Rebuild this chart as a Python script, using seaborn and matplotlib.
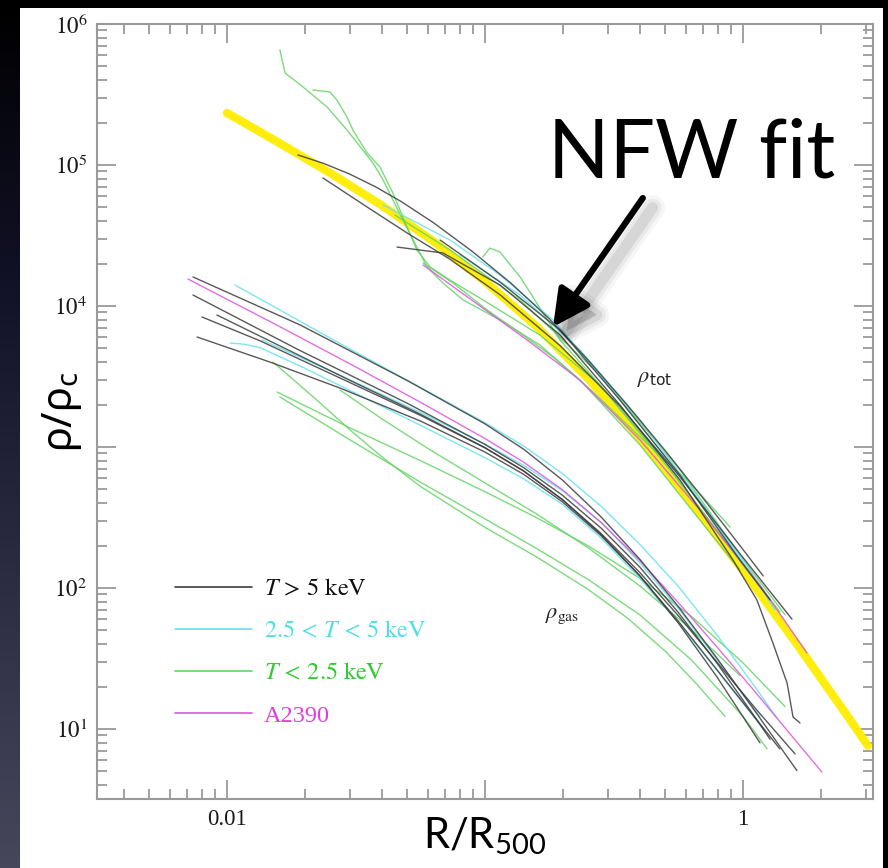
import numpy as np
import pandas as pd
import matplotlib
matplotlib.use("Agg")
import matplotlib.pyplot as plt
import matplotlib.patheffects as pe
from matplotlib.colors import LinearSegmentedColormap
from matplotlib.lines import Line2D
from matplotlib.patches import Rectangle
from matplotlib.ticker import FixedLocator, FixedFormatter, LogLocator, NullFormatter
import seaborn as sns

# All profiles are tabulated in dex: log10(R/R500) and log10(rho/rho_c).

# NFW fit to the total density
nfw_lgr = [-2.0, -1.8, -1.6, -1.4, -1.2, -1.0, -0.8, -0.6, -0.4, -0.2, 0.0, 0.2, 0.4, 0.484]
nfw_lgrho = [5.369, 5.159, 4.943, 4.713, 4.459, 4.175, 3.855, 3.485, 3.065, 2.605, 2.125, 1.625, 1.105, 0.882]

# ---- total density profiles ----
tot_hot1_lgr = [-1.725, -1.625, -1.525, -1.425, -1.325, -1.2, -1.05, -0.9, -0.75, -0.6, -0.45, -0.3, -0.15, 0.0, 0.078]
tot_hot1_lgrho = [5.071, 5.011, 4.936, 4.846, 4.741, 4.591, 4.388, 4.163, 3.908, 3.616, 3.301, 2.971, 2.626, 2.273, 2.086]
tot_hot2_lgr = [-1.628, -1.457, -1.302, -1.136, -0.942, -0.709, -0.477, -0.244, -0.012, 0.190]
tot_hot2_lgrho = [4.908, 4.702, 4.518, 4.332, 4.080, 3.719, 3.290, 2.789, 2.244, 1.779]
tot_hot3_lgr = [-1.341, -1.163, -0.942, -0.709, -0.477, -0.244, -0.039, 0.054, 0.116, 0.171, 0.194, 0.221]
tot_hot3_lgrho = [4.418, 4.376, 4.149, 3.794, 3.298, 2.766, 2.199, 1.915, 1.610, 1.326, 1.085, 1.043]
tot_hot4_lgr = [-1.174, -0.942, -0.709, -0.477, -0.244, -0.012, 0.105]
tot_hot4_lgrho = [4.468, 4.170, 3.830, 3.333, 2.801, 2.199, 1.915]

tot_warm1_lgr = [-1.395, -1.136, -0.942, -0.736, -0.554, -0.322, -0.089, 0.066]
tot_warm1_lgrho = [4.716, 4.468, 4.220, 3.901, 3.511, 2.979, 2.411, 2.007]
tot_warm2_lgr = [-1.097, -0.864, -0.632, -0.399, -0.167, 0.027, 0.124]
tot_warm2_lgrho = [4.362, 4.078, 3.688, 3.191, 2.624, 2.128, 1.844]

tot_cool1_lgr = [-1.795, -1.775, -1.705, -1.612, -1.535, -1.434, -1.395, -1.357, -1.318, -1.264,
                 -1.225, -1.163, -1.085, -0.942, -0.787, -0.632, -0.399, -0.167, -0.012]
tot_cool1_lgrho = [5.816, 5.652, 5.553, 5.411, 5.248, 5.014, 4.894, 4.752, 4.610, 4.418,
                   4.277, 4.163, 4.043, 3.901, 3.723, 3.475, 3.014, 2.482, 2.128]
tot_cool2_lgr = [-1.667, -1.601, -1.574, -1.535, -1.512, -1.457, -1.407, -1.357, -1.302, -1.264,
                 -1.213, -1.136, -1.008, -0.787, -0.554, -0.283, -0.012, 0.143]
tot_cool2_lgrho = [5.532, 5.518, 5.461, 5.340, 5.248, 5.085, 4.986, 4.801, 4.560, 4.397,
                   4.277, 4.184, 4.043, 3.794, 3.440, 2.837, 2.199, 1.830]
tot_cool3_lgr = [-1.240, -1.124, -0.992, -0.864, -0.736, -0.581, -0.399, -0.205, -0.050]
tot_cool3_lgrho = [4.305, 4.163, 3.972, 3.809, 3.638, 3.390, 3.071, 2.745, 2.433]
tot_cool4_lgr = [-1.008, -0.981, -0.942, -0.864, -0.814, -0.709, -0.554, -0.322, -0.089, 0.105]
tot_cool4_lgrho = [4.348, 4.411, 4.383, 4.206, 4.064, 3.759, 3.440, 2.943, 2.376, 1.915]
tot_cool5_lgr = [-1.349, -1.136, -0.864, -0.554, -0.244, -0.012, 0.163]
tot_cool5_lgrho = [4.645, 4.397, 4.043, 3.511, 2.837, 2.234, 1.809]

tot_a2390_lgr = [-1.240, -0.837, -0.632, -0.399, -0.167, 0.066, 0.248]
tot_a2390_lgrho = [4.291, 3.759, 3.475, 3.050, 2.553, 2.021, 1.539]

# ---- gas density profiles ----
gas_hot1_lgr = [-2.132, -1.717, -1.3, -1.0, -0.85, -0.7, -0.55, -0.4, -0.25, -0.1, 0.05, 0.209]
gas_hot1_lgrho = [4.206, 3.866, 3.470, 3.164, 2.984, 2.766, 2.504, 2.204, 1.867, 1.500, 1.118, 0.705]
gas_hot2_lgr = [-2.132, -1.717, -1.3, -1.0, -0.85, -0.7, -0.55, -0.4, -0.25, -0.1, 0.05, 0.105]
gas_hot2_lgrho = [4.078, 3.684, 3.309, 3.018, 2.853, 2.658, 2.425, 2.148, 1.825, 1.465, 1.075, 0.927]
gas_hot3_lgr = [-2.097, -1.872, -1.523, -1.25, -1.0, -0.85, -0.7, -0.55, -0.4, -0.25, -0.1, 0.066]
gas_hot3_lgrho = [3.922, 3.753, 3.456, 3.224, 2.994, 2.829, 2.627, 2.379, 2.087, 1.750, 1.367, 0.902]
gas_hot4_lgr = [-2.039, -1.872, -1.523, -1.25, -1.0, -0.85, -0.7, -0.55, -0.4, -0.25, -0.1, 0.05, 0.202]
gas_hot4_lgrho = [3.936, 3.786, 3.472, 3.232, 2.995, 2.830, 2.627, 2.387, 2.110, 1.802, 1.472, 1.142, 0.823]
gas_hot5_lgr = [-2.116, -1.833, -1.562, -1.25, -1.0, -0.85, -0.7, -0.55, -0.4, -0.25, -0.1, 0.05, 0.143]
gas_hot5_lgrho = [3.780, 3.602, 3.418, 3.184, 2.964, 2.806, 2.611, 2.371, 2.086, 1.763, 1.418, 1.073, 0.859]

gas_warm1_lgr = [-1.969, -1.574, -1.25, -1.0, -0.85, -0.7, -0.55, -0.4, -0.25, -0.1, 0.05, 0.132]
gas_warm1_lgrho = [4.149, 3.746, 3.422, 3.172, 3.007, 2.812, 2.580, 2.310, 2.010, 1.665, 1.290, 1.077]
gas_warm2_lgr = [-1.988, -1.93, -1.872, -1.7, -1.523, -1.25, -1.0, -0.85, -0.7, -0.55, -0.4, -0.25, -0.1, 0.085]
gas_warm2_lgrho = [3.738, 3.728, 3.705, 3.560, 3.400, 3.154, 2.924, 2.774, 2.594, 2.354, 2.069, 1.754, 1.414, 0.987]
gas_warm3_lgr = [-1.864, -1.523, -1.25, -1.0, -0.85, -0.7, -0.55, -0.4, -0.25, -0.1, 0.066]
gas_warm3_lgrho = [3.759, 3.476, 3.245, 3.020, 2.870, 2.690, 2.465, 2.180, 1.855, 1.490, 1.088]

gas_cool1_lgr = [-1.822, -1.65, -1.523, -1.4, -1.25, -1.0, -0.8, -0.6, -0.45, -0.3, -0.18, -0.07]
gas_cool1_lgrho = [3.603, 3.330, 3.121, 2.930, 2.720, 2.430, 2.220, 1.990, 1.790, 1.550, 1.320, 1.090]
gas_cool2_lgr = [-1.806, -1.523, -1.25, -1.0, -0.8, -0.6, -0.4, -0.2, 0.0, 0.163]
gas_cool2_lgrho = [3.390, 3.135, 2.903, 2.683, 2.499, 2.299, 2.069, 1.799, 1.469, 1.159]
gas_cool3_lgr = [-1.795, -1.523, -1.25, -1.0, -0.8, -0.6, -0.4, -0.2, 0.0, 0.093]
gas_cool3_lgrho = [3.355, 3.050, 2.750, 2.490, 2.280, 2.060, 1.810, 1.490, 1.090, 0.860]
gas_cool4_lgr = [-1.562, -1.4, -1.213, -1.0, -0.8, -0.6, -0.4, -0.2, -0.012]
gas_cool4_lgrho = [3.404, 3.200, 2.980, 2.745, 2.525, 2.285, 2.015, 1.705, 1.380]

gas_a2390_lgr = [-2.151, -1.8, -1.5, -1.25, -1.0, -0.85, -0.7, -0.55, -0.4, -0.25, -0.1, 0.05, 0.2, 0.306]
gas_a2390_lgrho = [4.191, 3.858, 3.567, 3.317, 3.060, 2.892, 2.697, 2.465, 2.195, 1.895, 1.580, 1.257, 0.927, 0.694]

# cluster samples
samples = ["cool", "warm", "A2390", "hot"]
legend_order = ["hot", "warm", "cool", "A2390"]
sample_labels = {
    "hot": r"$T\,>\,5\ \mathrm{keV}$",
    "warm": r"$2.5\,<\,T\,<\,5\ \mathrm{keV}$",
    "cool": r"$T\,<\,2.5\ \mathrm{keV}$",
    "A2390": "A2390",
}
line_colors = {"hot": "#3c3c3c", "warm": "#66e2ec", "cool": "#66d466", "A2390": "#dd55dd"}
text_colors = {"hot": "#111111", "warm": "#4edfe6", "cool": "#2fcc2f", "A2390": "#e03ce0"}

profiles = [
    ("tot_hot1", "hot", tot_hot1_lgr, tot_hot1_lgrho),
    ("tot_hot2", "hot", tot_hot2_lgr, tot_hot2_lgrho),
    ("tot_hot3", "hot", tot_hot3_lgr, tot_hot3_lgrho),
    ("tot_hot4", "hot", tot_hot4_lgr, tot_hot4_lgrho),
    ("tot_warm1", "warm", tot_warm1_lgr, tot_warm1_lgrho),
    ("tot_warm2", "warm", tot_warm2_lgr, tot_warm2_lgrho),
    ("tot_cool1", "cool", tot_cool1_lgr, tot_cool1_lgrho),
    ("tot_cool2", "cool", tot_cool2_lgr, tot_cool2_lgrho),
    ("tot_cool3", "cool", tot_cool3_lgr, tot_cool3_lgrho),
    ("tot_cool4", "cool", tot_cool4_lgr, tot_cool4_lgrho),
    ("tot_cool5", "cool", tot_cool5_lgr, tot_cool5_lgrho),
    ("tot_a2390", "A2390", tot_a2390_lgr, tot_a2390_lgrho),
    ("gas_hot1", "hot", gas_hot1_lgr, gas_hot1_lgrho),
    ("gas_hot2", "hot", gas_hot2_lgr, gas_hot2_lgrho),
    ("gas_hot3", "hot", gas_hot3_lgr, gas_hot3_lgrho),
    ("gas_hot4", "hot", gas_hot4_lgr, gas_hot4_lgrho),
    ("gas_hot5", "hot", gas_hot5_lgr, gas_hot5_lgrho),
    ("gas_warm1", "warm", gas_warm1_lgr, gas_warm1_lgrho),
    ("gas_warm2", "warm", gas_warm2_lgr, gas_warm2_lgrho),
    ("gas_warm3", "warm", gas_warm3_lgr, gas_warm3_lgrho),
    ("gas_cool1", "cool", gas_cool1_lgr, gas_cool1_lgrho),
    ("gas_cool2", "cool", gas_cool2_lgr, gas_cool2_lgrho),
    ("gas_cool3", "cool", gas_cool3_lgr, gas_cool3_lgrho),
    ("gas_cool4", "cool", gas_cool4_lgr, gas_cool4_lgrho),
    ("gas_a2390", "A2390", gas_a2390_lgr, gas_a2390_lgrho),
]

rows = []
for name, sample, lgr, lgrho in profiles:
    for a, b in zip(lgr, lgrho):
        rows.append((name, sample, 10.0 ** a, 10.0 ** b))
df = pd.DataFrame(rows, columns=["profile", "sample", "R", "rho"])
nfw = pd.DataFrame({"R": 10.0 ** np.array(nfw_lgr), "rho": 10.0 ** np.array(nfw_lgrho)})

sns.set_style("ticks")
plt.rcParams["font.family"] = ["Liberation Serif", "DejaVu Serif"]
plt.rcParams["mathtext.fontset"] = "stix"

fig = plt.figure(figsize=(8.88, 8.68), dpi=100)
fig.patch.set_facecolor("white")

# slide backdrop: dark band on the left, top and right
bg = fig.add_axes([0, 0, 19 / 888, 1], zorder=-5)
grad = np.linspace(0, 1, 256).reshape(-1, 1)
cmap = LinearSegmentedColormap.from_list(
    "slide", [(0.0, "#000000"), (0.35, "#13132a"), (0.7, "#2e2f45"), (1.0, "#46475b")])
bg.imshow(grad, aspect="auto", cmap=cmap, extent=(0, 1, 0, 1), origin="upper")
bg.set_axis_off()
fig.add_artist(Rectangle((0, 1 - 8 / 868), 1, 8 / 868, transform=fig.transFigure,
                         facecolor="black", edgecolor="none", zorder=-4))
fig.add_artist(Rectangle((883 / 888, 0), 5 / 888, 1, transform=fig.transFigure,
                         facecolor="black", edgecolor="none", zorder=-4))

ax = fig.add_axes([97 / 888, 1 - 799 / 868, 776 / 888, 775 / 868])
ax.set_xscale("log")
ax.set_yscale("log")
ax.set_facecolor("white")

sns.lineplot(data=nfw, x="R", y="rho", color="#ffee00", lw=6.0, alpha=0.95,
             sort=False, estimator=None, ax=ax, zorder=1)
sns.lineplot(data=df, x="R", y="rho", hue="sample", units="profile", estimator=None,
             sort=False, hue_order=samples, palette=line_colors, lw=1.0, alpha=0.85,
             legend=False, ax=ax, zorder=2)

ax.set_xlim(10 ** -2.504, 10 ** 0.504)
ax.set_ylim(10 ** 0.5035, 1e6)

ax.xaxis.set_major_locator(FixedLocator([0.01, 0.1, 1.0]))
ax.xaxis.set_major_formatter(FixedFormatter(["0.01", "", "1"]))
ax.xaxis.set_minor_locator(LogLocator(base=10, subs=np.arange(2, 10)))
ax.xaxis.set_minor_formatter(NullFormatter())
ax.yaxis.set_major_locator(FixedLocator([1e1, 1e2, 1e3, 1e4, 1e5, 1e6]))
ax.yaxis.set_major_formatter(FixedFormatter(
    [r"$10^{1}$", r"$10^{2}$", "", r"$10^{4}$", r"$10^{5}$", r"$10^{6}$"]))
ax.yaxis.set_minor_locator(LogLocator(base=10, subs=np.arange(2, 10)))
ax.yaxis.set_minor_formatter(NullFormatter())

frame_grey = "#9a9a9a"
ax.tick_params(which="both", direction="in", top=True, right=True, color=frame_grey,
               labelcolor="#1a1a1a", labelsize=16.5, pad=7)
ax.tick_params(which="major", length=14, width=1.3)
ax.tick_params(which="minor", length=7, width=1.3)
for s in ax.spines.values():
    s.set_color(frame_grey)
    s.set_linewidth(1.5)

ax.set_xlabel(r"$\mathregular{R/R_{500}}$", fontsize=30, family="Lato", color="black")
ax.xaxis.set_label_coords(0.5, -0.021)
ax.set_ylabel(r"$\mathregular{\rho/\rho_c}$", fontsize=30, family="Noto Sans", color="black")
ax.yaxis.set_label_coords(-0.017, 0.5)

# profile family labels
ax.text(0.388, 10 ** 3.46, r"$\rho_{\mathregular{tot}}$", fontsize=16, family="DejaVu Sans",
        ha="left", va="baseline")
ax.text(0.171, 10 ** 1.79, r"$\rho_{\rm gas}$", fontsize=16, ha="left", va="baseline")

# legend with coloured labels
handles = [Line2D([0], [0], color=line_colors[s], lw=1.2) for s in legend_order]
leg = ax.legend(handles, [sample_labels[s] for s in legend_order],
                loc="upper left", bbox_to_anchor=(0.1005, 0.284), frameon=False, fontsize=17.5,
                handlelength=3.17, handletextpad=0.5, labelspacing=0.82, borderaxespad=0,
                borderpad=0, labelcolor=[text_colors[s] for s in legend_order])

# NFW call-out with a soft drop shadow
ax.text(0.1755, 8.2e4, "NFW fit", fontsize=58, family="Lato", ha="left", va="baseline",
        color="black")
arr = ax.annotate("", xy=(0.1835, 7.1e3), xytext=(0.409, 5.83e4),
                  arrowprops=dict(arrowstyle="-|>,head_length=0.55,head_width=0.28",
                                  mutation_scale=40, lw=4.5, color="black",
                                  shrinkA=0, shrinkB=0))
shadow = []
for lw_s, a_s in [(18, 0.035), (13, 0.05), (8, 0.08)]:
    shadow.append(pe.SimpleLineShadow(offset=(7, -7), shadow_color="black", alpha=a_s,
                                      linewidth=lw_s))
shadow.append(pe.SimplePatchShadow(offset=(7, -7), shadow_rgbFace="black", alpha=0.15))
shadow.append(pe.Normal())
arr.arrow_patch.set_path_effects(shadow)

fig.savefig("out.png", dpi=100, facecolor=fig.get_facecolor())
